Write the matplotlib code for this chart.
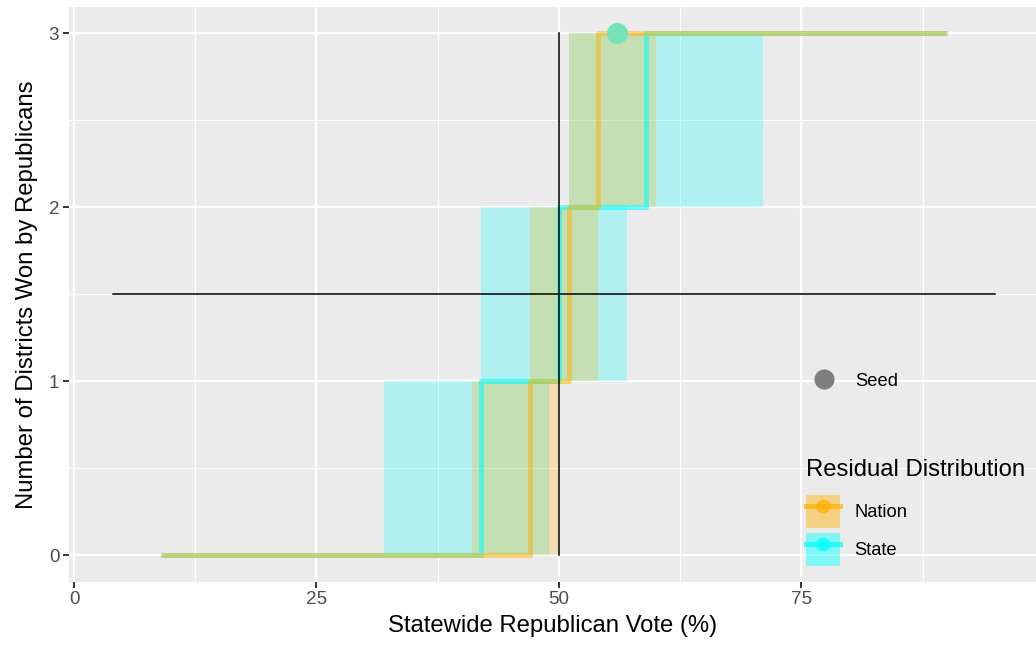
import matplotlib
matplotlib.use("Agg")
import matplotlib.pyplot as plt
from matplotlib.lines import Line2D
from matplotlib.patches import Patch
from matplotlib.ticker import MultipleLocator

plt.rcParams['font.family'] = ['Liberation Sans', 'DejaVu Sans']

# step curves: vote share where seats won goes 0->1, 1->2, 2->3
x_start, x_end = 9, 90
nation_steps = [47, 51, 54]
state_steps = [42, 50, 59]
# uncertainty bands for each step
nation_lo = [41, 47, 51]
nation_hi = [50, 54, 60]
state_lo = [32, 42, 51]
state_hi = [49, 57, 71]
seats = [0, 1, 2, 3]

seed_vote, seed_seats = 56, 3
ref_vote, ref_seats = 50, 1.5
hline_range = [4, 95]

nation_col = "#FFB000"
state_col = "#00FFFF"
seed_col = "#76E3B6"

fig = plt.figure(figsize=(10.36, 6.52), dpi=100)
ax = fig.add_axes([69/1036, 1 - 581.7/652, 1 - 69/1036, (581.7 - 7)/652])
ax.set_facecolor("#EBEBEB")
for s in ax.spines.values():
    s.set_visible(False)

# bands: cyan first, orange on top
for i in range(3):
    ax.fill_between([state_lo[i], state_hi[i]], seats[i], seats[i + 1],
                    color=state_col, alpha=0.25, linewidth=0, zorder=2)
for i in range(3):
    ax.fill_between([nation_lo[i], nation_hi[i]], seats[i], seats[i + 1],
                    color=nation_col, alpha=0.25, linewidth=0, zorder=2)


def step_xy(steps):
    xs = [x_start]
    ys = [seats[0]]
    for i, s in enumerate(steps):
        xs += [s, s]
        ys += [seats[i], seats[i + 1]]
    xs.append(x_end)
    ys.append(seats[-1])
    return xs, ys


nx, ny = step_xy(nation_steps)
sx, sy = step_xy(state_steps)
ax.plot(sx, sy, color=state_col, alpha=0.55, lw=3.6,
        solid_joinstyle="round", solid_capstyle="butt", zorder=3)
ax.plot(nx, ny, color=nation_col, alpha=0.5, lw=3.6,
        solid_joinstyle="round", solid_capstyle="butt", zorder=3)

ax.plot([ref_vote, ref_vote], [seats[0], seats[-1]], color="black", lw=1.1, zorder=4)
ax.plot(hline_range, [ref_seats, ref_seats], color="black", lw=1.1, zorder=4)

ax.scatter([seed_vote], [seed_seats], s=230, color=seed_col, linewidths=0, zorder=5)

ax.set_xlim(-0.52, 99.2)
ax.set_ylim(-0.152, 3.151)
ax.xaxis.set_major_locator(MultipleLocator(25))
ax.xaxis.set_minor_locator(MultipleLocator(12.5))
ax.yaxis.set_major_locator(MultipleLocator(1))
ax.yaxis.set_minor_locator(MultipleLocator(0.5))
ax.grid(which="major", color="white", lw=1.6, zorder=0)
ax.grid(which="minor", color="white", lw=0.8, zorder=0)
ax.set_axisbelow(True)
ax.tick_params(which="major", length=4, width=1.4, color="#333333",
               labelsize=13.6, labelcolor="#4D4D4D", pad=3)
ax.tick_params(which="minor", length=0)

ax.set_xlabel("Statewide Republican Vote (%)", fontsize=17.2, labelpad=5)
ax.set_ylabel("Number of Districts Won by Republicans", fontsize=17.2, labelpad=8)

# legends
seed_handle = Line2D([], [], marker="o", ls="", ms=14.5, color="#7F7F7F", mec="none")
leg1 = ax.legend([seed_handle], ["Seed"], loc="center left",
                 bbox_to_anchor=(807/1036, 1 - 381/652), bbox_transform=fig.transFigure,
                 frameon=False, fontsize=13.2, handlelength=1.86, handletextpad=0.77,
                 borderpad=0, borderaxespad=0)
ax.add_artist(leg1)

handles = []
for c in [nation_col, state_col]:
    p = Patch(facecolor=c, alpha=0.45, edgecolor="none")
    l = Line2D([], [], color=c, alpha=0.7, lw=3.6, marker="o", ms=9)
    handles.append((p, l))
leg2 = ax.legend(handles, ["Nation", "State"], title="Residual Distribution",
                 loc="upper left", bbox_to_anchor=(806/1036, 1 - 459/652),
                 bbox_transform=fig.transFigure, frameon=False, fontsize=13.2,
                 title_fontsize=17.2, alignment="left", handlelength=1.86,
                 handleheight=2.4, handletextpad=0.77, labelspacing=0.3,
                 borderpad=0, borderaxespad=0)
# extra gap between legend title and keys
leg2._legend_box.sep = 9.8

fig.savefig("out.png", dpi=100, facecolor="white")
